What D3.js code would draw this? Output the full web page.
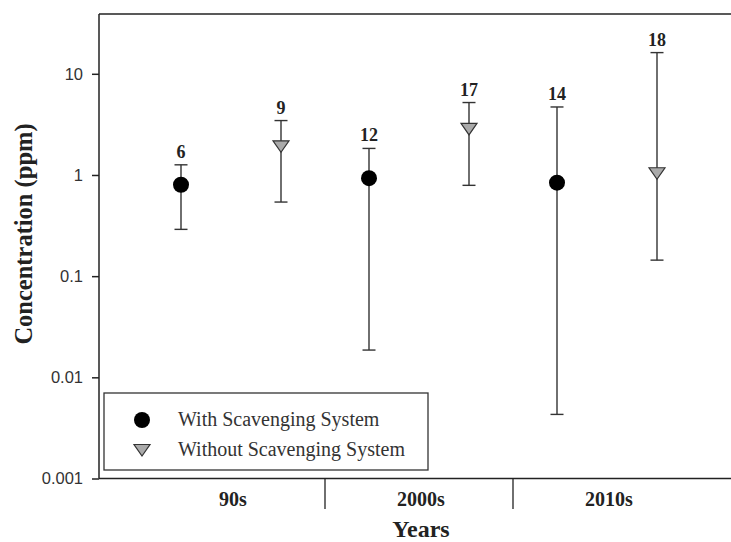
<!DOCTYPE html>
<html><head><meta charset="utf-8">
<script src="https://cdn.jsdelivr.net/npm/d3@7"></script>
<style>body{margin:0;background:#fff}svg{display:block}</style>
</head><body><svg id="c" width="731" height="542"></svg>
<script>
const decades = ["90s", "2000s", "2010s"];
const seriesNames = ["With Scavenging System", "Without Scavenging System"];
const withMean = [0.80, 0.93, 0.84];
const withLow = [0.29, 0.0186, 0.0043];
const withHigh = [1.26, 1.83, 4.7];
const withN = [6, 12, 14];
const withoutMean = [1.92, 2.85, 1.04];
const withoutLow = [0.54, 0.79, 0.144];
const withoutHigh = [3.45, 5.2, 16.2];
const withoutN = [9, 17, 18];
const yTicks = [0.001, 0.01, 0.1, 1, 10];

const SERIF = "'Liberation Serif', 'Times New Roman', serif";
const SANS = "'Liberation Sans', Arial, sans-serif";

const svg = d3.select("#c");
const L = 99, T = 14, B = 478.5, R = 731;
const y = d3.scaleLog().domain([0.001, 39]).range([B, T]);
const x = d3.scaleBand().domain(decades).range([137, 701]);
const xi = d3.scalePoint().domain(seriesNames).range([0, x.bandwidth()]).padding(0.44);

const data = [];
decades.forEach((d, i) => {
  data.push({d, s: seriesNames[0], m: withMean[i], lo: withLow[i], hi: withHigh[i], n: withN[i]});
  data.push({d, s: seriesNames[1], m: withoutMean[i], lo: withoutLow[i], hi: withoutHigh[i], n: withoutN[i]});
});
const cx = r => x(r.d) + xi(r.s);

// frame
svg.append("line").attr("x1", L).attr("x2", R).attr("y1", T).attr("y2", T).attr("stroke", "#222").attr("stroke-width", 1.5);
svg.append("line").attr("x1", L).attr("x2", R).attr("y1", B).attr("y2", B).attr("stroke", "#222").attr("stroke-width", 1.5);

// y axis
const ya = svg.append("g").attr("transform", `translate(${L},0)`)
  .call(d3.axisLeft(y).tickValues(yTicks).tickSize(7).tickPadding(9).tickFormat(d => d3.format("~g")(d)));
ya.select(".domain").attr("stroke", "#222").attr("stroke-width", 1.5).attr("d", `M0,${T}V${B}`);
ya.selectAll(".tick line").attr("stroke", "#222").attr("stroke-width", 1.5);
ya.selectAll(".tick text").attr("font-family", SANS).attr("font-size", 16.5).attr("fill", "#333");

// x category separators & labels
decades.slice(1).forEach(d => {
  svg.append("line").attr("x1", x(d)).attr("x2", x(d)).attr("y1", B).attr("y2", 509).attr("stroke", "#222").attr("stroke-width", 1.3);
});
svg.selectAll(".cat").data(decades).join("text")
  .attr("x", d => x(d) + x.bandwidth() / 2 + 2).attr("y", 506)
  .attr("text-anchor", "middle").attr("font-family", SERIF)
  .attr("font-weight", "bold").attr("font-size", 20).attr("fill", "#222").text(d => d);

// axis titles
svg.append("text").attr("x", 421).attr("y", 537).attr("text-anchor", "middle")
  .attr("font-family", SERIF).attr("font-weight", "bold")
  .attr("font-size", 24).attr("fill", "#222").text("Years");
svg.append("text").attr("transform", `translate(32,234) rotate(-90)`).attr("text-anchor", "middle")
  .attr("font-family", SERIF).attr("font-weight", "bold")
  .attr("font-size", 24.5).attr("fill", "#222").text("Concentration (ppm)");

// error bars
const g = svg.append("g");
g.selectAll(".eb").data(data).join("line")
  .attr("x1", cx).attr("x2", cx).attr("y1", r => y(r.lo)).attr("y2", r => y(r.hi))
  .attr("stroke", "#333").attr("stroke-width", 1.4);
["lo", "hi"].forEach(k => {
  g.selectAll(".cap" + k).data(data).join("line")
    .attr("x1", r => cx(r) - 6.5).attr("x2", r => cx(r) + 6.5)
    .attr("y1", r => y(r[k])).attr("y2", r => y(r[k]))
    .attr("stroke", "#333").attr("stroke-width", 1.4);
});
// n labels
g.selectAll(".n").data(data).join("text")
  .attr("x", cx).attr("y", r => y(r.hi) - 7).attr("text-anchor", "middle")
  .attr("font-family", SERIF).attr("font-weight", "bold")
  .attr("font-size", 18).attr("fill", "#222").text(r => r.n);

// markers
const tri = "M-8,-5.5L8,-5.5L0,6Z";
function marker(sel, s) {
  if (s === seriesNames[0]) {
    sel.append("circle").attr("r", 8).attr("fill", "#000");
  } else {
    sel.append("path").attr("d", tri).attr("fill", "#aaa").attr("stroke", "#333").attr("stroke-width", 1.2);
  }
}
data.forEach(r => {
  const m = g.append("g").attr("transform", `translate(${cx(r)},${y(r.m)})`);
  marker(m, r.s);
});

// legend
svg.append("rect").attr("x", 104).attr("y", 393).attr("width", 324).attr("height", 77)
  .attr("fill", "#fff").attr("stroke", "#333").attr("stroke-width", 1.3);
seriesNames.forEach((s, i) => {
  const ly = 420 + i * 30;
  const m = svg.append("g").attr("transform", `translate(142,${ly})`);
  marker(m, s);
  svg.append("text").attr("x", 178).attr("y", ly + 6)
    .attr("font-family", SERIF).attr("font-size", 20)
    .attr("fill", "#333").text(s);
});
</script></body></html>
